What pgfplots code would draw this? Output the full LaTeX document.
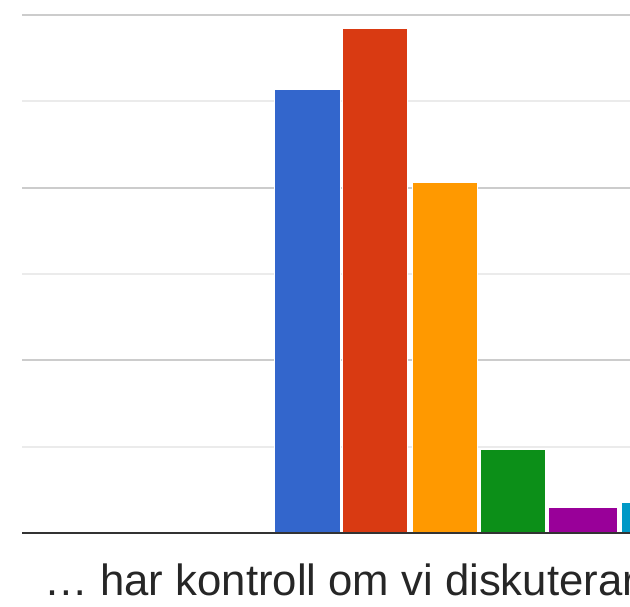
\documentclass[border=0pt]{standalone}
\usepackage{pgfplots}
\pgfplotsset{compat=1.18}
\usepackage{fontspec}
\setmainfont{Liberation Sans}

\definecolor{gblue}{HTML}{3366CC}
\definecolor{gred}{HTML}{D93A12}
\definecolor{gorange}{HTML}{FF9900}
\definecolor{ggreen}{HTML}{0C8F18}
\definecolor{gpurple}{HTML}{990099}
\definecolor{gcyan}{HTML}{0099C6}
\definecolor{majgrid}{HTML}{CCCCCC}
\definecolor{mingrid}{HTML}{EBEBEB}

\pgfplotsset{gbar/.style={ybar, bar shift=0pt, draw=white, line width=0.6pt}}

\begin{document}
\begin{tikzpicture}
\useasboundingbox (0,0) rectangle (630pt,606pt);
\clip (0,0) rectangle (630pt,606pt);
\begin{axis}[
  at={(22pt,73pt)}, anchor=south west,
  scale only axis, width=678pt, height=518pt,
  xmin=22, xmax=700, ymin=0, ymax=6,
  axis line style={draw=none},
  xtick=\empty, ytick={2,4,6}, minor ytick={1,3,5},
  yticklabels={}, major tick length=0pt, minor tick length=0pt,
  ymajorgrids, yminorgrids,
  major grid style={majgrid, line width=2pt},
  minor grid style={mingrid, line width=2pt},
]
\addplot[gbar, fill=gblue, bar width=66] coordinates {(307,5.14)};
\addplot[gbar, fill=gred, bar width=65] coordinates {(375.2,5.85)};
\addplot[gbar, fill=gorange, bar width=65] coordinates {(444.5,4.06)};
\addplot[gbar, fill=ggreen, bar width=65] coordinates {(512.5,0.97)};
\addplot[gbar, fill=gpurple, bar width=69] coordinates {(583,0.30)};
\addplot[gbar, fill=gcyan, bar width=65] coordinates {(653.5,0.35)};
% baseline
\addplot[draw=black!80, line width=2pt, mark=none] coordinates {(22,0) (700,0)};
\end{axis}
\node[anchor=base west, inner sep=0pt, text=black!85,
  font=\fontsize{43.7}{50}\selectfont] at (44.3pt,11pt) {… har kontroll om vi diskuterar};
\end{tikzpicture}
\end{document}
